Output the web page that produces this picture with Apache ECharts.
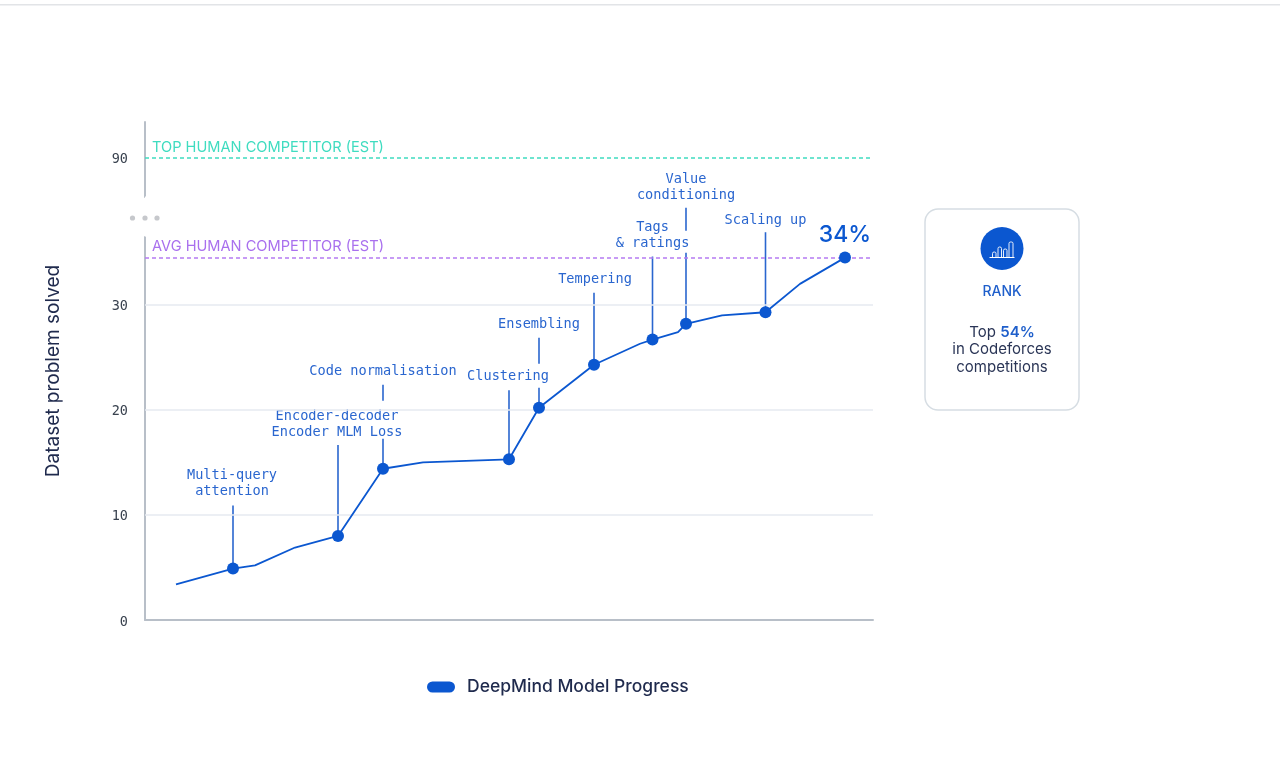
<!DOCTYPE html>
<html>
<head>
<meta charset="utf-8">
<script src="https://cdn.jsdelivr.net/npm/echarts@6/dist/echarts.min.js"></script>
<style>html,body{margin:0;padding:0;background:#fff}#c{width:1280px;height:758px}</style>
</head>
<body>
<div id="c"></div>
<script>
// ---- data ----
const seriesName = 'DeepMind Model Progress';
const progressX = [31, 88, 110, 150, 193, 238, 278, 364, 394, 449, 495, 507.5, 533, 541, 577, 620.5, 655, 700];
const solvedPct = [3.4, 4.9, 5.2, 6.9, 8.0, 14.4, 15.0, 15.3, 20.2, 24.3, 26.3, 26.7, 27.4, 28.2, 29.0, 29.3, 32.0, 34.5];
const milestoneIdx = [1, 4, 5, 7, 8, 9, 11, 13, 15, 17];
const milestoneLabels = {1:'Multi-query\nattention', 4:'Encoder-decoder\nEncoder MLM Loss', 5:'Code normalisation', 7:'Clustering', 8:'Ensembling', 9:'Tempering', 11:'Tags\n& ratings', 13:'Value\nconditioning', 15:'Scaling up'};
const yTicks = [0, 10, 20, 30, 90];
const gridValues = [10, 20, 30];
const topHuman = 90, avgHuman = 34.5;
const topLabel = 'TOP HUMAN COMPETITOR (EST)', avgLabel = 'AVG HUMAN COMPETITOR (EST)';
const finalLabel = '34%';

// ---- annotation layout: pixel rises above each milestone (styling, not data) ----
const labelRise = {1:[-1,85], 4:[-1,111.5], 5:[0,97.5], 7:[-1,83], 8:[0,83], 9:[1,85], 11:[0,104], 13:[0,136.5], 15:[0,92]};
const leaderRise = {1:[[0,63]], 4:[[0,91]], 5:[[0,30],[68,84]], 7:[[0,69]], 8:[[0,20],[44,70]], 9:[[0,72]], 11:[[0,83]], 13:[[0,71],[93,116]], 15:[[0,80]]};

const BLUE = '#0b57d0', LINK = '#2a66cf', GRID = '#e6eaf0', AXIS = '#b8bfc8';
const SANS = 'Inter, "Noto Sans", sans-serif', MONO = '"DejaVu Sans Mono", monospace';
const CAPSULE = 'path://M5.5 0H22.5A5.5 5.5 0 0 1 22.5 11H5.5A5.5 5.5 0 0 1 5.5 0Z';

const lineData = progressX.map((x, i) => ({
  value: [x, solvedPct[i]],
  symbol: milestoneIdx.includes(i) ? 'circle' : 'none',
  label: i === progressX.length - 1 ? {show: true, formatter: finalLabel, position: 'top', distance: 5, color: BLUE, fontSize: 23, fontFamily: SANS, fontWeight: 500} : {show: false}
}));

const annotationData = Object.keys(milestoneLabels).map(Number).map(i => [progressX[i], solvedPct[i], i]);

const chart = echarts.init(document.getElementById('c'), null, {renderer: 'canvas'});
chart.setOption({
  animation: false,
  backgroundColor: '#fff',
  grid: {left: 145, top: 122, width: 728, bottom: 138, containLabel: false},
  legend: {
    data: [seriesName], left: 422, top: 673, icon: CAPSULE, itemWidth: 28, itemHeight: 11, itemGap: 12,
    textStyle: {color: '#1f2a4d', fontSize: 17.5, fontFamily: SANS, fontWeight: 500, padding: [0, 0, 0, 7]}
  },
  xAxis: {type: 'value', min: 0, max: 728, splitLine: {show: false}, axisTick: {show: false}, axisLabel: {show: false},
    axisLine: {show: true, onZero: false, lineStyle: {color: AXIS, width: 2}}},
  yAxis: {
    type: 'value', min: 0, max: 93.4,
    name: 'Dataset problem solved', nameLocation: 'middle', nameGap: 82, nameRotate: 90,
    nameTextStyle: {color: '#1f2a4d', fontSize: 19, fontFamily: SANS},
    breaks: [{start: 36.5, end: 86.3, gap: 3.81}],
    breakArea: {show: true, zigzagAmplitude: 0, zigzagZ: 1, expandOnClick: false,
      itemStyle: {color: '#fff', borderColor: '#fff', borderWidth: 0, opacity: 1}},
    splitLine: {show: false}, axisTick: {show: false},
    axisLine: {show: true, onZero: false, lineStyle: {color: AXIS, width: 2}},
    axisLabel: {customValues: yTicks, margin: 17, color: '#39424f', fontSize: 13.5, fontFamily: MONO, verticalAlign: 'top', lineHeight: 4}
  },
  series: [
    {
      name: 'grid', type: 'line', data: [], silent: true, z: 1, legendHoverLink: false,
      markLine: {silent: true, symbol: 'none', animation: false, label: {show: false},
        lineStyle: {color: GRID, width: 1.5, type: 'solid'},
        data: gridValues.map(v => ({yAxis: v}))}
    },
    {
      name: 'refs', type: 'line', data: [], silent: true, z: 3,
      markLine: {silent: true, symbol: 'none', animation: false, data: [
        {yAxis: topHuman, lineStyle: {color: '#3fdcc0', width: 1.5, type: [4, 3]},
          label: {show: true, position: 'insideStartTop', distance: [7, 3], formatter: topLabel, color: '#3fdcc0', fontSize: 14.6, fontFamily: SANS}},
        {yAxis: avgHuman, lineStyle: {color: '#b57bf2', width: 1.5, type: [4, 3]},
          label: {show: true, position: 'insideStartTop', distance: [7, 3], formatter: avgLabel, color: '#a970ee', fontSize: 14.6, fontFamily: SANS}}
      ]}
    },
    {
      name: 'annotations', type: 'custom', coordinateSystem: 'cartesian2d', z: 4, silent: true,
      data: annotationData,
      renderItem: function (params, api) {
        const p = api.coord([api.value(0), api.value(1)]);
        const k = api.value(2);
        const children = leaderRise[k].map(r => ({
          type: 'line',
          shape: {x1: p[0], y1: p[1] - r[0], x2: p[0], y2: p[1] - r[1]},
          style: {stroke: LINK, lineWidth: 1.6}
        }));
        const lr = labelRise[k];
        children.push({
          type: 'text',
          style: {text: milestoneLabels[k], x: p[0] + lr[0], y: p[1] - lr[1], align: 'center', verticalAlign: 'middle',
            fill: LINK, font: '13.6px ' + MONO, lineHeight: 16, backgroundColor: '#fff'}
        });
        return {type: 'group', children: children};
      }
    },
    {
      name: seriesName, type: 'line', z: 5, data: lineData, symbol: 'circle', symbolSize: 12, showAllSymbol: true, smooth: false,
      lineStyle: {color: BLUE, width: 1.8}, itemStyle: {color: BLUE}
    }
  ],
  graphic: [
    {type: 'rect', z: 100, shape: {x: 0, y: 4, width: 1280, height: 1.5}, style: {fill: '#e2e4e7'}, silent: true},
    {type: 'circle', z: 100, shape: {cx: 132.5, cy: 218, r: 2.6}, style: {fill: '#c6c8cc'}},
    {type: 'circle', z: 100, shape: {cx: 145, cy: 218, r: 2.6}, style: {fill: '#c6c8cc'}},
    {type: 'circle', z: 100, shape: {cx: 157, cy: 218, r: 2.6}, style: {fill: '#c6c8cc'}},
    {type: 'rect', shape: {x: 925, y: 209, width: 154, height: 201, r: 13}, style: {fill: '#fff', stroke: '#d6dde3', lineWidth: 1.5}},
    {type: 'circle', shape: {cx: 1002, cy: 248.5, r: 21.5}, style: {fill: BLUE}},
    {type: 'line', shape: {x1: 989.5, y1: 257.5, x2: 1014.5, y2: 257.5}, style: {stroke: '#fff', lineWidth: 1}},
    {type: 'rect', shape: {x: 992.5, y: 252, width: 3.5, height: 5.5, r: [1.5, 1.5, 0, 0]}, style: {fill: 'none', stroke: '#fff', lineWidth: 0.9}},
    {type: 'rect', shape: {x: 998, y: 247, width: 3.5, height: 10.5, r: [1.5, 1.5, 0, 0]}, style: {fill: 'none', stroke: '#fff', lineWidth: 0.9}},
    {type: 'rect', shape: {x: 1003.5, y: 249, width: 3.5, height: 8.5, r: [1.5, 1.5, 0, 0]}, style: {fill: 'none', stroke: '#fff', lineWidth: 0.9}},
    {type: 'rect', shape: {x: 1009, y: 242, width: 4, height: 15.5, r: [1.5, 1.5, 0, 0]}, style: {fill: 'none', stroke: '#fff', lineWidth: 0.9}},
    {type: 'text', style: {text: 'RANK', x: 1002, y: 292, align: 'center', verticalAlign: 'middle', fill: '#1f5fcb', font: '500 14px ' + SANS}},
    {type: 'text', style: {text: '{a|Top }{b|54%}\n{a|in Codeforces}\n{a|competitions}', x: 1002, y: 349.5, align: 'center', verticalAlign: 'middle', lineHeight: 17.5,
      rich: {a: {fill: '#2a3556', font: '15px ' + SANS, lineHeight: 17.5}, b: {fill: '#1f5fcb', font: '600 15px ' + SANS, lineHeight: 17.5}}}}
  ]
});
</script>
</body>
</html>
